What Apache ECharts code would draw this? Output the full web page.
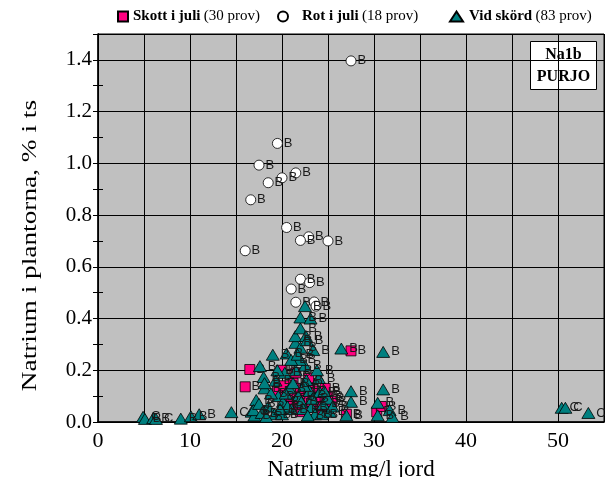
<!DOCTYPE html>
<html>
<head>
<meta charset="utf-8">
<script src="https://cdn.jsdelivr.net/npm/echarts@6/dist/echarts.min.js"></script>
<style>
  html, body { margin: 0; padding: 0; background: #fff; }
  #chart { width: 607px; height: 477px; }
</style>
</head>
<body>
<div id="chart"></div>
<script>
// Skott i juli: [Na mg/l jord, Na % i ts]
const skottPts = [
  [16.5, 0.203], [16.0, 0.136], [27.5, 0.275], [30.3, 0.039], [19.9, 0.200],
  [21.2, 0.150], [22.6, 0.110], [23.3, 0.120], [24.0, 0.100], [25.0, 0.100],
  [20.5, 0.084], [22.8, 0.058], [21.5, 0.190], [22.0, 0.130], [23.6, 0.080],
  [24.4, 0.060], [21.0, 0.100], [22.3, 0.090], [23.0, 0.150], [24.7, 0.130],
  [25.4, 0.080], [19.5, 0.120], [20.8, 0.060], [22.0, 0.040], [23.9, 0.040],
  [27.0, 0.030], [30.8, 0.060], [21.8, 0.070], [22.9, 0.170], [20.2, 0.140]
];
const skottLab = Array(30).fill('B');

// Rot i juli
const rotPts = [
  [27.5, 1.396], [19.5, 1.077], [17.5, 0.993], [21.5, 0.963], [20.0, 0.944],
  [18.5, 0.925], [16.6, 0.859], [20.5, 0.752], [22.9, 0.716], [22.0, 0.702],
  [25.0, 0.700], [16.0, 0.662], [22.0, 0.552], [23.0, 0.539], [21.0, 0.514],
  [21.5, 0.463], [23.5, 0.464], [23.7, 0.448]
];
const rotLab = Array(18).fill('B');

// Vid skörd
const skordPts = [
  [4.9, 0.020], [5.1, 0.012], [6.0, 0.015], [6.3, 0.012], [9.0, 0.013],
  [10.1, 0.022], [11.0, 0.030], [14.5, 0.038], [16.7, 0.040], [17.0, 0.025],
  [17.2, 0.085], [16.9, 0.046], [17.6, 0.216], [18.0, 0.174], [18.1, 0.130],
  [18.1, 0.150], [19.0, 0.260], [18.5, 0.060], [19.2, 0.030], [19.6, 0.100],
  [20.1, 0.078], [20.5, 0.265], [20.3, 0.190], [20.8, 0.130], [21.0, 0.050],
  [21.45, 0.306], [21.45, 0.332], [21.5, 0.200], [21.8, 0.100], [22.0, 0.287],
  [22.0, 0.362], [22.0, 0.404], [22.5, 0.448], [22.6, 0.332], [22.7, 0.316],
  [22.5, 0.218], [22.65, 0.162], [22.1, 0.078], [23.1, 0.400], [23.2, 0.058],
  [23.4, 0.278], [23.0, 0.120], [23.6, 0.030], [24.1, 0.116], [24.5, 0.070],
  [25.0, 0.090], [25.2, 0.040], [24.0, 0.170], [26.45, 0.284], [27.5, 0.119],
  [27.5, 0.078], [27.0, 0.026], [31.0, 0.271], [31.0, 0.126], [30.4, 0.074],
  [30.4, 0.026], [31.7, 0.046], [32.0, 0.020], [50.4, 0.055], [50.8, 0.055],
  [53.3, 0.035], [18.8, 0.110], [19.5, 0.200], [20.0, 0.030], [20.6, 0.060],
  [21.2, 0.150], [21.9, 0.240], [22.3, 0.050], [23.3, 0.090], [23.8, 0.200],
  [24.3, 0.030], [21.0, 0.240], [19.3, 0.160], [17.8, 0.035], [18.3, 0.020],
  [22.8, 0.025], [24.6, 0.120], [20.4, 0.110], [19.8, 0.050], [22.4, 0.140],
  [17.5, 0.070], [25.5, 0.060], [21.7, 0.260]
];
const skordLab = [
  'C', 'B', 'B', 'C', 'B', 'B', 'B', 'C', 'C', 'B',
  'B', 'B', 'B', 'B', 'B', 'B', 'B', 'B', 'B', 'B',
  'B', 'B', 'B', 'B', 'B', 'B', 'B', 'B', 'B', 'B',
  'B', 'B', 'B', 'B', 'B', 'B', 'B', 'B', 'B', 'B',
  'B', 'B', 'B', 'B', 'B', 'B', 'B', 'B', 'B', 'B',
  'B', 'B', 'B', 'B', 'B', 'B', 'B', 'B', 'C', 'C',
  'C', 'B', 'B', 'B', 'B', 'B', 'B', 'B', 'B', 'B',
  'B', 'B', 'B', 'B', 'B', 'B', 'B', 'B', 'B', 'B',
  'B', 'B', 'B'
];

const xTicks = [0, 10, 20, 30, 40, 50];
const yTicks = [0.0, 0.2, 0.4, 0.6, 0.8, 1.0, 1.2, 1.4];
const seriesNames = ['Skott i juli', 'Rot i juli', 'Vid skörd'];
const sampleCounts = [skottPts.length, rotPts.length, skordPts.length];

const serif = '"Liberation Serif", "Times New Roman", serif';
const sans = '"Liberation Sans", Arial, sans-serif';

function pointLabel(labels) {
  return {
    show: true,
    position: 'right',
    distance: 1,
    fontFamily: sans,
    fontSize: 13,
    color: '#1a1a1a',
    formatter: p => labels[p.dataIndex]
  };
}

// one legend block per series, each placed along the top line
function legendBlock(i, left, iconW, padLeft) {
  return {
    top: 9,
    left: left,
    padding: 0,
    itemWidth: iconW,
    itemHeight: 10,
    data: [seriesNames[i]],
    formatter: name => '{b|' + name + '} {n|(' + sampleCounts[i] + ' prov)}',
    textStyle: {
      rich: {
        b: { fontFamily: serif, fontWeight: 'bold', fontSize: 15, color: '#000', padding: [0, 0, 0, padLeft] },
        n: { fontFamily: serif, fontSize: 15, color: '#000' }
      }
    }
  };
}

const chart = echarts.init(document.getElementById('chart'), null, { renderer: 'canvas' });

chart.setOption({
  animation: false,
  backgroundColor: '#ffffff',
  grid: {
    left: 98, right: 3, top: 34, bottom: 55,
    containLabel: false,
    outerBoundsMode: 'none',
    show: true,
    backgroundColor: '#c0c0c0',
    borderColor: '#000',
    borderWidth: 1
  },
  legend: [
    legendBlock(0, 117, 10, 0),
    legendBlock(1, 277, 10, 9),
    legendBlock(2, 449, 13, 1)
  ],
  xAxis: [{
    type: 'value',
    min: 0, max: 55, interval: 5,
    name: 'Natrium mg/l jord',
    nameLocation: 'middle',
    nameGap: 36,
    nameTextStyle: { fontFamily: serif, fontSize: 23, color: '#000' },
    axisLine: { show: true, onZero: false, lineStyle: { color: '#000', width: 1.5 } },
    axisTick: { show: false },
    axisLabel: {
      fontFamily: serif, fontSize: 22, color: '#000', margin: 8,
      formatter: v => xTicks.includes(v) ? String(v) : ''
    },
    splitLine: { show: true, lineStyle: { color: '#000', width: 1 } }
  }, {
    type: 'value', position: 'top',
    min: 0, max: 55, interval: 5,
    axisLine: { show: true, lineStyle: { color: '#000' } },
    axisTick: { show: false },
    axisLabel: { show: false },
    splitLine: { show: false }
  }],
  yAxis: [{
    type: 'value',
    min: 0, max: 1.5, interval: 0.2,
    axisLine: { show: true, onZero: false, lineStyle: { color: '#000', width: 1.5 } },
    axisTick: { show: true, inside: true, length: 5, lineStyle: { color: '#000' } },
    minorTick: { show: true, splitNumber: 2, length: 5, lineStyle: { color: '#000' } },
    axisLabel: {
      fontFamily: serif, fontSize: 21, color: '#000', margin: 6,
      formatter: v => yTicks.some(t => Math.abs(t - v) < 1e-6) ? v.toFixed(1) : ''
    },
    splitLine: { show: true, lineStyle: { color: '#000', width: 1 } }
  }, {
    type: 'value', position: 'right',
    min: 0, max: 1.5, interval: 0.2,
    axisLine: { show: true, lineStyle: { color: '#000' } },
    axisTick: { show: true, inside: true, length: 5, lineStyle: { color: '#000' } },
    minorTick: { show: true, splitNumber: 2, length: 5, lineStyle: { color: '#000' } },
    axisLabel: { show: false },
    splitLine: { show: false }
  }],
  graphic: [{
    // y-axis title, set a little wide along its length
    type: 'text',
    left: 20,
    top: 100,
    rotation: Math.PI / 2,
    scaleX: 1.3,
    originX: 0,
    originY: 0,
    style: {
      text: 'Natrium i plantorna, % i ts',
      font: '21px ' + serif,
      fill: '#000'
    }
  }, {
    type: 'group',
    right: 10,
    top: 41,
    children: [{
      type: 'rect',
      shape: { x: 0, y: 0, width: 66, height: 48 },
      style: { fill: '#fff', stroke: '#000', lineWidth: 1 }
    }, {
      type: 'text',
      x: 33, y: 24,
      style: {
        text: 'Na1b\nPURJO',
        align: 'center',
        verticalAlign: 'middle',
        font: 'bold 16px ' + serif,
        lineHeight: 22,
        fill: '#000'
      }
    }]
  }],
  series: [{
    name: seriesNames[0],
    type: 'scatter',
    symbol: 'rect',
    symbolSize: 10,
    itemStyle: { color: '#ff0080', borderColor: '#000', borderWidth: 0.8, opacity: 1 },
    label: pointLabel(skottLab),
    data: skottPts,
    z: 2
  }, {
    name: seriesNames[1],
    type: 'scatter',
    symbol: 'circle',
    symbolSize: 10,
    itemStyle: { color: '#ffffff', borderColor: '#000', borderWidth: 0.8, opacity: 1 },
    label: pointLabel(rotLab),
    data: rotPts,
    z: 3
  }, {
    name: seriesNames[2],
    type: 'scatter',
    symbol: 'triangle',
    symbolSize: [13, 11],
    itemStyle: { color: '#008080', borderColor: '#000', borderWidth: 0.8, opacity: 1 },
    label: pointLabel(skordLab),
    data: skordPts,
    z: 4
  }]
});
</script>
</body>
</html>
